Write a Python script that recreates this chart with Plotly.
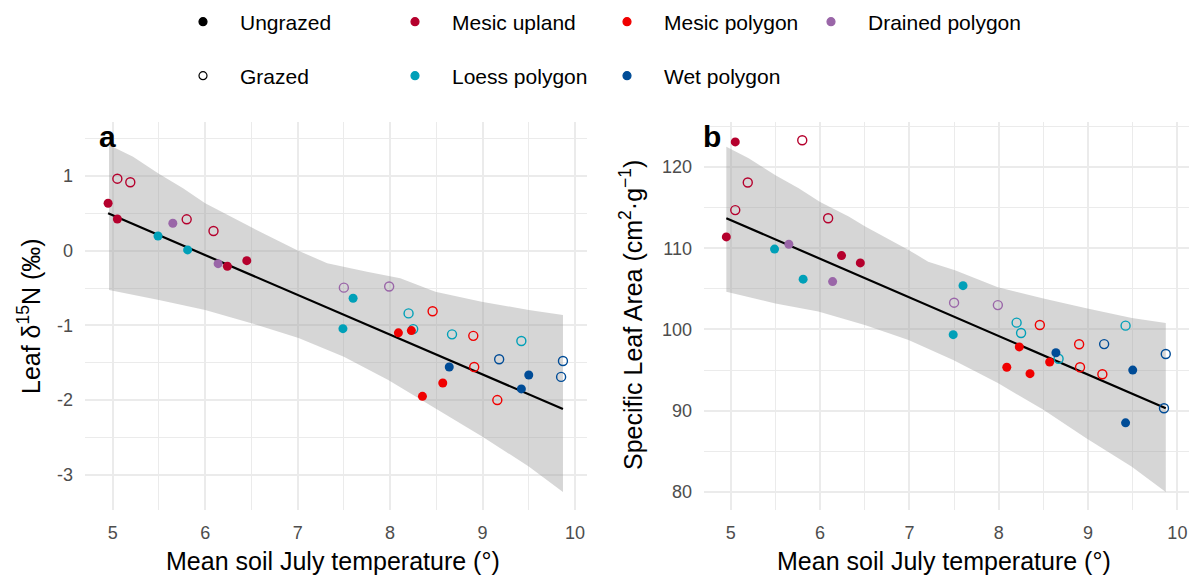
import plotly.graph_objects as go

W, H = 1190, 576
FONT = "Liberation Sans, Arial, sans-serif"

# ---------------- data ----------------
# Mean soil July temperature per site, leaf d15N (panel a), SLA (panel b)
mu_ung_t = [4.95, 5.05, 6.24, 6.45]
mu_ung_n = [0.635, 0.424, -0.209, -0.134]
mu_ung_s = [111.4, 123.1, 109.1, 108.2]
mu_gra_t = [5.05, 5.19, 5.80, 6.09]
mu_gra_n = [0.964, 0.916, 0.42, 0.264]
mu_gra_s = [114.7, 118.1, 123.3, 113.7]

dr_ung_t = [5.65, 6.14]
dr_ung_n = [0.367, -0.174]
dr_ung_s = [110.5, 105.9]
dr_gra_t = [7.50, 7.99]
dr_gra_n = [-0.495, -0.48]
dr_gra_s = [103.3, 103.0]

lo_ung_t = [5.49, 5.81, 7.60, 7.49]
lo_ung_n = [0.197, 0.01, -0.637, -1.044]
lo_ung_s = [109.9, 106.2, 105.4, 99.36]
lo_gra_t = [8.20, 8.25, 8.67, 9.42]
lo_gra_n = [-0.840, -1.05, -1.12, -1.209]
lo_gra_s = [100.84, 99.57, 96.4, 100.47]

mp_ung_t = [8.09, 8.23, 8.57, 8.35]
mp_ung_n = [-1.10, -1.07, -1.771, -1.95]
mp_ung_s = [95.35, 97.85, 96.0, 94.56]
mp_gra_t = [8.46, 8.90, 8.91, 9.16]
mp_gra_n = [-0.811, -1.14, -1.557, -2.0]
mp_gra_s = [100.55, 98.18, 95.35, 94.49]

wp_ung_t = [8.64, 9.50, 9.42]
wp_ung_n = [-1.557, -1.664, -1.851]
wp_ung_s = [97.14, 95.0, 88.5]
wp_gra_t = [9.18, 9.87, 9.85]
wp_gra_n = [-1.454, -1.477, -1.69]
wp_gra_s = [98.2, 96.98, 90.3]

# fitted line and confidence band
fit_t = [4.95, 9.87]
fit_n = [0.50, -2.12]
fit_s = [113.7, 90.3]

band_n_up_t = [4.96, 5.22, 5.49, 5.76, 6.0, 6.31, 6.52, 6.99, 7.32, 7.75, 8.11, 8.49, 8.99, 9.5, 9.87]
band_n_up = [1.415, 1.258, 1.036, 0.835, 0.635, 0.434, 0.30, 0.01, -0.169, -0.281, -0.369, -0.549, -0.683, -0.794, -0.861]
band_n_lo_t = [4.96, 5.50, 6.00, 6.50, 7.01, 7.50, 7.98, 8.49, 9.0, 9.5, 9.87]
band_n_lo = [-0.526, -0.659, -0.793, -0.97, -1.17, -1.42, -1.73, -2.11, -2.49, -2.89, -3.23]

band_s_up_t = [4.95, 5.20, 5.50, 5.76, 6.0, 6.32, 6.50, 6.99, 7.21, 7.51, 7.99, 8.50, 8.98, 9.49, 9.87]
band_s_up = [122.5, 121.1, 119.0, 117.4, 115.7, 113.9, 112.7, 109.8, 108.35, 107.3, 105.2, 103.8, 102.6, 101.4, 100.8]
band_s_lo_t = [4.95, 5.50, 5.98, 6.50, 6.99, 7.49, 7.99, 8.50, 8.98, 9.49, 9.87]
band_s_lo = [104.65, 103.2, 102.2, 100.55, 98.7, 96.25, 93.4, 90.1, 86.6, 83.1, 80.0]

habitats = ["Mesic upland", "Mesic polygon", "Drained polygon", "Loess polygon", "Wet polygon"]
hab_colors = ["#B5002D", "#F00000", "#9A66A8", "#00A0B8", "#004C97"]

x_ticks = [5, 6, 7, 8, 9, 10]
x_ticktext = ["5", "6", "7", "8", "9", "10"]
ya_ticks = [-3, -2, -1, 0, 1]
ya_ticktext = ["-3", "-2", "-1", "0", "1"]
yb_ticks = [80, 90, 100, 110, 120]
yb_ticktext = ["80", "90", "100", "110", "120"]

groups = [
    ("Mesic upland", mu_ung_t, mu_ung_n, mu_ung_s, mu_gra_t, mu_gra_n, mu_gra_s),
    ("Drained polygon", dr_ung_t, dr_ung_n, dr_ung_s, dr_gra_t, dr_gra_n, dr_gra_s),
    ("Loess polygon", lo_ung_t, lo_ung_n, lo_ung_s, lo_gra_t, lo_gra_n, lo_gra_s),
    ("Mesic polygon", mp_ung_t, mp_ung_n, mp_ung_s, mp_gra_t, mp_gra_n, mp_gra_s),
    ("Wet polygon", wp_ung_t, wp_ung_n, wp_ung_s, wp_gra_t, wp_gra_n, wp_gra_s),
]

fig = go.Figure()
BAND = "rgba(153,153,153,0.4)"

for (ut, un, lt, ln), (xa, ya) in [
    ((band_n_up_t, band_n_up, band_n_lo_t, band_n_lo), ("x", "y")),
    ((band_s_up_t, band_s_up, band_s_lo_t, band_s_lo), ("x2", "y2")),
]:
    fig.add_trace(go.Scatter(
        x=list(ut) + list(lt)[::-1], y=list(un) + list(ln)[::-1],
        fill="toself", fillcolor=BAND, line=dict(width=0), mode="lines",
        hoverinfo="skip", showlegend=False, xaxis=xa, yaxis=ya))

fig.add_trace(go.Scatter(x=fit_t, y=fit_n, mode="lines", line=dict(color="black", width=2.2),
                         showlegend=False, xaxis="x", yaxis="y"))
fig.add_trace(go.Scatter(x=fit_t, y=fit_s, mode="lines", line=dict(color="black", width=2.2),
                         showlegend=False, xaxis="x2", yaxis="y2"))

col_of = dict(zip(habitats, hab_colors))
for name, ut, un, us, gt, gn, gs in groups:
    c = col_of[name]
    for xa, ya, yu, yg in [("x", "y", un, gn), ("x2", "y2", us, gs)]:
        fig.add_trace(go.Scatter(x=gt, y=yg, mode="markers", showlegend=False,
                                 marker=dict(symbol="circle-open", size=9, color=c, line=dict(width=1.4, color=c)),
                                 xaxis=xa, yaxis=ya))
        fig.add_trace(go.Scatter(x=ut, y=yu, mode="markers", showlegend=False,
                                 marker=dict(symbol="circle", size=9, color=c, line=dict(width=0)),
                                 xaxis=xa, yaxis=ya))

# legend entries
leg1 = [("Ungrazed", "black", "circle"), ("Mesic upland", col_of["Mesic upland"], "circle"),
        ("Mesic polygon", col_of["Mesic polygon"], "circle")]
leg3 = [("Drained polygon", col_of["Drained polygon"], "circle")]
leg2 = [("Grazed", "black", "circle-open"), ("Loess polygon", col_of["Loess polygon"], "circle"),
        ("Wet polygon", col_of["Wet polygon"], "circle")]
for lg, items in [("legend", leg1), ("legend3", leg3), ("legend2", leg2)]:
    for nm, c, sym in items:
        fig.add_trace(go.Scatter(x=[None], y=[None], mode="markers", name=nm, legend=lg,
                                 marker=dict(symbol=sym, size=8, color=c, line=dict(width=1.2, color=c))))

GRID = "#EBEBEB"
def xax(domain):
    return dict(domain=domain, range=[4.70, 10.13], tickvals=x_ticks, ticktext=x_ticktext,
                showgrid=True, gridcolor=GRID, gridwidth=1.6, zeroline=False, showline=False,
                ticks="", ticklabelstandoff=10, tickfont=dict(size=18, color="#4D4D4D", family=FONT),
                minor=dict(dtick=0.5, tick0=0, showgrid=True, gridcolor=GRID, gridwidth=0.9),
                automargin=False, fixedrange=True)

def yax(domain, rng, tv, tt, minor, anchor):
    return dict(domain=domain, range=rng, tickvals=tv, ticktext=tt, anchor=anchor,
                showgrid=True, gridcolor=GRID, gridwidth=1.6, zeroline=False, showline=False,
                ticks="", ticklabelstandoff=11, tickfont=dict(size=18, color="#4D4D4D", family=FONT),
                minor=dict(dtick=minor, tick0=0, showgrid=True, gridcolor=GRID, gridwidth=0.9),
                automargin=False, fixedrange=True)

ydom = [1 - 510 / H, 1 - 122 / H]
legcommon = dict(orientation="h", xanchor="left", yanchor="middle", entrywidth=133, entrywidthmode="pixels",
                 itemwidth=64,
                 font=dict(size=21, family=FONT, color="black"), bgcolor="rgba(0,0,0,0)",
                 itemsizing="trace", traceorder="normal")

fig.update_layout(
    width=W, height=H, template="none", plot_bgcolor="white", paper_bgcolor="white",
    margin=dict(l=0, r=0, t=0, b=0),
    font=dict(family=FONT, color="black"),
    xaxis=dict(xax([85 / W, 587 / W]), anchor="y"),
    yaxis=yax(ydom, [-3.472, 1.723], ya_ticks, ya_ticktext, 0.5, "x"),
    xaxis2=dict(xax([704 / W, 1189 / W]), anchor="y2"),
    yaxis2=yax(ydom, [77.77, 125.55], yb_ticks, yb_ticktext, 5, "x2"),
    legend=dict(legcommon, x=166 / W, y=1 - 22 / H),
    legend2=dict(legcommon, x=166 / W, y=1 - 76 / H),
    legend3=dict(legcommon, x=794 / W, y=1 - 22 / H, entrywidth=0),
    showlegend=True,
)

ann = [
    dict(text="<b>a</b>", x=107 / W, y=1 - 136 / H, font=dict(size=30)),
    dict(text="<b>b</b>", x=712 / W, y=1 - 136 / H, font=dict(size=30)),
    dict(text="Mean soil July temperature (°)", x=333 / W, y=1 - 561 / H, font=dict(size=25)),
    dict(text="Mean soil July temperature (°)", x=944 / W, y=1 - 561 / H, font=dict(size=25)),
    dict(text="Leaf δ<sup>15</sup>N (‰)", x=29 / W, y=1 - 316 / H, textangle=-90, font=dict(size=25)),
    dict(text="Specific Leaf Area (cm<sup>2</sup>·g<sup>−1</sup>)", x=631 / W, y=1 - 315 / H, textangle=-90,
         font=dict(size=25)),
]
for a in ann:
    fig.add_annotation(xref="paper", yref="paper", showarrow=False, xanchor="center", yanchor="middle",
                       font=dict(a.pop("font"), family=FONT, color="black"), **a)

fig.write_html("out.html", config={"displayModeBar": False},
               post_script="document.body.style.margin='0';document.body.style.overflow='hidden';")
